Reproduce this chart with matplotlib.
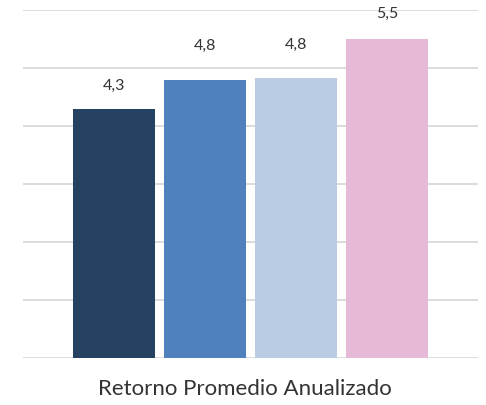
import matplotlib
matplotlib.use("Agg")
import matplotlib.pyplot as plt
import numpy as np

# data
series = ["A", "B", "C", "D"]
values = [4.29, 4.79, 4.83, 5.5]
labels = ["4,3", "4,8", "4,8", "5,5"]

COLORS = ["#264263", "#4f81bd", "#b9cce4", "#e6b9d7"]
GRID = "#d9d9d9"
TEXT = "#333333"
# label offset above bar (points), as placed in the original
label_pad = [17, 25, 24, 18]

plt.rcParams["font.family"] = ["Lato", "DejaVu Sans"]

fig = plt.figure(figsize=(4.86, 4.05), dpi=100)
ax = fig.add_axes([23 / 486, 47 / 405, 455 / 486, 348 / 405])

x = np.arange(len(values))
bars = ax.bar(x, values, width=0.912, color=COLORS, edgecolor="none", zorder=2)

for bar, lab, pad in zip(bars, labels, label_pad):
    ax.annotate(lab, (bar.get_x() + bar.get_width() / 2, bar.get_height()),
                xytext=(0, pad), textcoords="offset points",
                ha="center", va="center", fontsize=11.5, color=TEXT)

ax.set_xlim(-1.0, 4.0)
ax.set_ylim(0, 6)
ax.set_yticks(np.arange(0, 7, 1))
ax.grid(axis="y", color=GRID, linewidth=1.3, zorder=0)
ax.tick_params(left=False, bottom=False, labelleft=False, labelbottom=False)
for s in ax.spines.values():
    s.set_visible(False)

fig.text(245 / 486, 1 - 389 / 405, "Retorno Promedio Anualizado",
         ha="center", va="center", fontsize=16, color=TEXT)

fig.savefig("out.png", dpi=100)
